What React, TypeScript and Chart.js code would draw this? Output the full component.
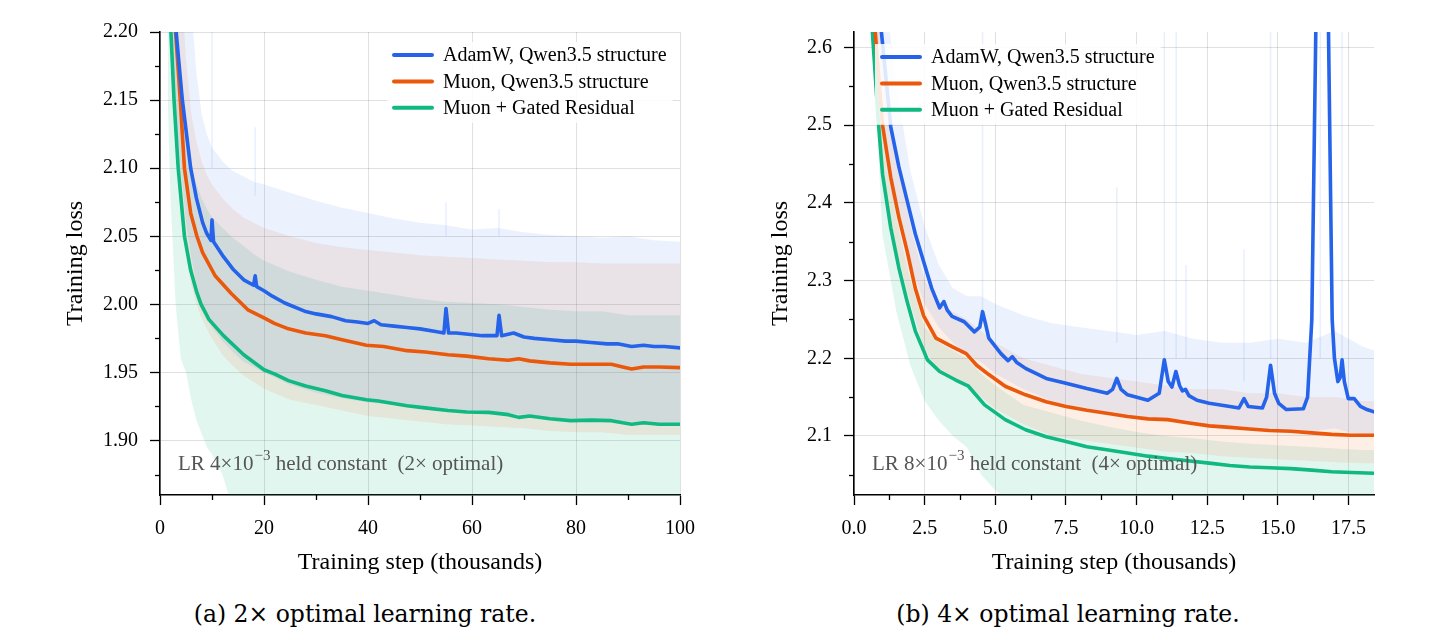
import React, { useEffect, useRef } from "react";
import { Chart, registerables } from "chart.js";

Chart.register(...registerables);

// ---------- shared ----------
const SERIES_LABELS = ["AdamW, Qwen3.5 structure", "Muon, Qwen3.5 structure", "Muon + Gated Residual"];
const SERIES_COLORS = ["#2563eb", "#ea580c", "#10b981"];
const BAND_COLORS = ["rgba(37,99,235,0.09)", "rgba(234,88,12,0.10)", "rgba(16,185,129,0.12)"];
const SPIKE_COLOR = "rgba(37,99,235,0.10)";
const X_TITLE = "Training step (thousands)";
const Y_TITLE = "Training loss";

// ---------- panel (a): 2x optimal LR ----------
const L_ADAMW_X = [2.5, 3.1, 4.3, 5.9, 7.0, 8.2, 9.0, 9.8, 10.0, 10.3, 11.0, 12.2, 14.0, 16.1, 18.0, 18.3, 18.6, 20.0, 21.6, 24.0, 27.8, 30.0, 33.0, 35.7, 38.0, 40.0, 41.2, 42.5, 45.0, 47.5, 50.0, 53.0, 54.6, 55.0, 55.5, 57.0, 59.3, 62.0, 64.8, 65.2, 65.7, 68.0, 70.0, 72.0, 75.0, 78.0, 80.0, 82.9, 86.0, 88.0, 90.7, 93.0, 95.0, 97.0, 100];
const L_ADAMW_Y = [2.24, 2.20, 2.15, 2.10, 2.078, 2.06, 2.052, 2.047, 2.062, 2.046, 2.042, 2.035, 2.026, 2.018, 2.014, 2.021, 2.013, 2.010, 2.006, 2.001, 1.995, 1.993, 1.991, 1.988, 1.987, 1.986, 1.988, 1.985, 1.984, 1.983, 1.982, 1.980, 1.979, 1.997, 1.979, 1.979, 1.978, 1.977, 1.977, 1.992, 1.977, 1.979, 1.976, 1.975, 1.974, 1.973, 1.973, 1.972, 1.971, 1.971, 1.969, 1.970, 1.969, 1.969, 1.968];
const L_MUON_X = [2.4, 3.0, 3.9, 4.7, 5.9, 7.1, 8.2, 10.6, 13.7, 16.9, 20, 22, 24.7, 28, 31.8, 35, 39.7, 43, 47.5, 51, 55.4, 59, 63.2, 67, 69, 71.1, 75, 79, 83, 86.8, 89, 90.7, 93, 96, 100];
const L_MUON_Y = [2.23, 2.20, 2.15, 2.10, 2.067, 2.05, 2.038, 2.021, 2.008, 1.996, 1.990, 1.986, 1.982, 1.979, 1.977, 1.974, 1.970, 1.969, 1.966, 1.965, 1.963, 1.962, 1.960, 1.959, 1.960, 1.9585, 1.957, 1.956, 1.956, 1.956, 1.954, 1.9525, 1.954, 1.954, 1.9535];
const L_GATED_X = [1.8, 2.1, 2.7, 3.5, 4.7, 5.9, 7.1, 7.9, 9.4, 12.2, 16.1, 20, 22, 24.7, 28, 31.8, 35, 39.7, 42, 47.5, 51, 55.4, 59, 63.2, 67, 69, 71.1, 75, 79, 83, 86.8, 89, 90.7, 93, 96, 100];
const L_GATED_Y = [2.23, 2.20, 2.15, 2.10, 2.05, 2.025, 2.0086, 2.0, 1.989, 1.977, 1.963, 1.952, 1.949, 1.944, 1.940, 1.9366, 1.933, 1.930, 1.929, 1.9256, 1.924, 1.922, 1.921, 1.9207, 1.919, 1.917, 1.918, 1.916, 1.9146, 1.915, 1.9146, 1.913, 1.912, 1.913, 1.912, 1.912];

const L_BAND_X = [1.5, 2, 3, 4, 5, 6, 7, 8, 9, 10, 12, 14, 16, 18, 20, 25, 30, 35, 40, 45, 50, 55, 60, 65, 70, 75, 80, 85, 90, 95, 100];
const L_ADAMW_HI = [2.5, 2.45, 2.4, 2.35, 2.28, 2.22, 2.17, 2.14, 2.125, 2.115, 2.105, 2.098, 2.094, 2.09, 2.088, 2.082, 2.076, 2.071, 2.067, 2.063, 2.06, 2.058, 2.055, 2.056, 2.053, 2.051, 2.05, 2.049, 2.05, 2.047, 2.046];
const L_ADAMW_LO = [2.25, 2.2, 2.14, 2.1, 2.06, 2.035, 2.015, 2.0, 1.99, 1.983, 1.973, 1.965, 1.958, 1.954, 1.95, 1.941, 1.935, 1.931, 1.928, 1.926, 1.924, 1.922, 1.921, 1.92, 1.919, 1.917, 1.916, 1.915, 1.914, 1.913, 1.913];
const L_MUON_HI = [2.45, 2.4, 2.32, 2.24, 2.18, 2.14, 2.12, 2.105, 2.095, 2.088, 2.078, 2.07, 2.064, 2.06, 2.056, 2.05, 2.045, 2.042, 2.04, 2.038, 2.036, 2.035, 2.034, 2.033, 2.032, 2.031, 2.031, 2.03, 2.03, 2.03, 2.03];
const L_MUON_LO = [2.25, 2.2, 2.14, 2.09, 2.04, 2.015, 2.0, 1.99, 1.982, 1.975, 1.963, 1.955, 1.948, 1.943, 1.938, 1.93, 1.926, 1.922, 1.918, 1.916, 1.914, 1.912, 1.911, 1.91, 1.909, 1.907, 1.906, 1.906, 1.904, 1.904, 1.904];
const L_GATED_HI = [2.4, 2.33, 2.24, 2.17, 2.13, 2.1, 2.088, 2.078, 2.07, 2.064, 2.056, 2.049, 2.043, 2.037, 2.032, 2.024, 2.018, 2.013, 2.01, 2.007, 2.004, 2.002, 2.001, 2.0, 1.998, 1.996, 1.995, 1.995, 1.992, 1.992, 1.992];
const L_GATED_LO = [2.15, 2.08, 2.0, 1.96, 1.95, 1.93, 1.915, 1.905, 1.895, 1.89, 1.875, 1.85, 1.85, 1.85, 1.85, 1.85, 1.85, 1.85, 1.85, 1.85, 1.85, 1.85, 1.85, 1.85, 1.85, 1.85, 1.85, 1.85, 1.85, 1.85, 1.85];

// faint raw-loss spikes of AdamW (step, base, top)
const L_SPIKE_X = [10.0, 18.3, 55.0, 65.2];
const L_SPIKE_BASE = [2.1, 2.08, 2.05, 2.05];
const L_SPIKE_TOP = [2.25, 2.13, 2.075, 2.07];

// ---------- panel (b): 4x optimal LR ----------
const R_ADAMW_X = [0.9, 0.97, 1.3, 1.59, 1.88, 2.17, 2.46, 2.75, 3.03, 3.18, 3.3, 3.47, 3.9, 4.26, 4.45, 4.55, 4.65, 4.77, 5.2, 5.45, 5.6, 5.75, 6.07, 6.8, 7.5, 8.24, 8.96, 9.15, 9.3, 9.45, 9.68, 10.4, 10.8, 10.98, 11.12, 11.25, 11.39, 11.52, 11.62, 11.73, 11.85, 12.14, 12.57, 13.3, 13.62, 13.8, 13.95, 14.45, 14.6, 14.74, 14.88, 15.03, 15.3, 15.9, 16.05, 16.2, 16.34, 16.56, 16.79, 16.92, 17.0, 17.12, 17.2, 17.27, 17.35, 17.49, 17.7, 17.92, 18.15, 18.4];
const R_ADAMW_Y = [2.66, 2.62, 2.498, 2.446, 2.403, 2.36, 2.325, 2.29, 2.265, 2.273, 2.262, 2.254, 2.247, 2.234, 2.24, 2.26, 2.245, 2.226, 2.206, 2.197, 2.202, 2.195, 2.187, 2.174, 2.168, 2.161, 2.155, 2.16, 2.174, 2.16, 2.153, 2.146, 2.155, 2.198, 2.17, 2.163, 2.183, 2.165, 2.158, 2.16, 2.152, 2.146, 2.142, 2.138, 2.136, 2.148, 2.138, 2.136, 2.15, 2.191, 2.155, 2.142, 2.134, 2.135, 2.15, 2.25, 2.62, 3.2, 2.62, 2.25, 2.2, 2.17, 2.175, 2.198, 2.17, 2.148, 2.148, 2.138, 2.134, 2.131];
const R_MUON_X = [0.7, 0.75, 1.01, 1.3, 1.59, 1.88, 2.17, 2.46, 2.9, 3.47, 3.97, 4.34, 4.77, 5.35, 6.07, 6.8, 7.5, 8.24, 9.0, 9.68, 10.4, 11.1, 11.8, 12.57, 13.3, 14.0, 14.7, 15.46, 16.2, 16.9, 17.6, 18.4];
const R_MUON_Y = [2.66, 2.62, 2.5, 2.433, 2.381, 2.338, 2.29, 2.255, 2.226, 2.215, 2.206, 2.191, 2.179, 2.164, 2.153, 2.144, 2.138, 2.133, 2.129, 2.125, 2.122, 2.121, 2.117, 2.113, 2.111, 2.109, 2.107, 2.106, 2.104, 2.102, 2.101, 2.101];
const R_GATED_X = [0.6, 0.65, 0.87, 1.01, 1.3, 1.59, 1.88, 2.17, 2.6, 3.03, 3.6, 4.05, 4.62, 5.35, 6.07, 6.8, 7.5, 8.24, 9.0, 9.68, 10.4, 11.1, 11.8, 12.57, 13.3, 14.0, 14.7, 15.46, 16.2, 16.9, 17.6, 18.4];
const R_GATED_Y = [2.66, 2.62, 2.5, 2.437, 2.368, 2.316, 2.273, 2.235, 2.198, 2.183, 2.172, 2.164, 2.14, 2.121, 2.108, 2.099, 2.093, 2.086, 2.082, 2.078, 2.074, 2.071, 2.068, 2.065, 2.062, 2.06, 2.059, 2.058, 2.056, 2.054, 2.053, 2.052];

const R_BAND_X = [0.5, 1.0, 1.5, 2.0, 2.5, 3.0, 3.5, 4.0, 4.5, 5.0, 6.0, 7.0, 8.0, 9.0, 10, 11, 12, 13, 14, 15, 16, 17, 18, 18.4];
const R_ADAMW_HI = [2.8, 2.7, 2.55, 2.44, 2.37, 2.32, 2.29, 2.28, 2.28, 2.27, 2.255, 2.245, 2.24, 2.235, 2.23, 2.235, 2.225, 2.22, 2.22, 2.225, 2.22, 2.235, 2.215, 2.21];
const R_ADAMW_LO = [2.7, 2.5, 2.4, 2.32, 2.27, 2.24, 2.22, 2.205, 2.195, 2.18, 2.16, 2.145, 2.135, 2.13, 2.125, 2.12, 2.115, 2.11, 2.11, 2.105, 2.105, 2.11, 2.1, 2.1];
const R_MUON_HI = [2.95, 2.6, 2.46, 2.37, 2.3, 2.27, 2.26, 2.25, 2.235, 2.22, 2.2, 2.19, 2.18, 2.175, 2.17, 2.165, 2.16, 2.16, 2.155, 2.155, 2.15, 2.15, 2.145, 2.145];
const R_MUON_LO = [2.8, 2.43, 2.34, 2.27, 2.21, 2.185, 2.175, 2.165, 2.15, 2.135, 2.115, 2.1, 2.095, 2.09, 2.085, 2.08, 2.078, 2.074, 2.072, 2.07, 2.068, 2.066, 2.065, 2.065];
const R_GATED_HI = [2.9, 2.5, 2.38, 2.3, 2.24, 2.22, 2.21, 2.2, 2.18, 2.165, 2.14, 2.13, 2.12, 2.112, 2.105, 2.1, 2.097, 2.093, 2.09, 2.088, 2.086, 2.084, 2.082, 2.082];
const R_GATED_LO = [2.75, 2.36, 2.26, 2.19, 2.145, 2.12, 2.1, 2.085, 2.05, 2.03, 2.0, 2.0, 2.0, 2.0, 2.0, 2.0, 2.0, 2.0, 2.0, 2.0, 2.0, 2.0, 2.0, 2.0];

const R_SPIKE_X = [4.55, 9.3, 10.98, 11.4, 11.75, 13.8, 14.74, 16.5, 17.27];
const R_SPIKE_BASE = [2.26, 2.22, 2.2, 2.2, 2.2, 2.17, 2.2, 2.2, 2.2];
const R_SPIKE_TOP = [2.7, 2.42, 2.7, 2.7, 2.32, 2.34, 2.7, 2.7, 2.7];

const CAPTION_A = "(a) 2× optimal learning rate.";
const CAPTION_B = "(b) 4× optimal learning rate.";

type Panel = {
  lines: { x: number[]; y: number[] }[];
  bandX: number[];
  bands: { hi: number[]; lo: number[] }[];
  spikes: { x: number[]; base: number[]; top: number[] };
  xMin: number; xMax: number; xStep: number;
  xMajor: (v: number) => boolean; xFmt: (v: number) => string;
  yMin: number; yMax: number; yStep: number;
  yMajor: (v: number) => boolean; yFmt: (v: number) => string;
  yAxisWidth: number; padRight: number; yTitleOffset: number;
  legendX: number; legendY: number;
  note: [string, string, string];
};

const LEFT: Panel = {
  lines: [{ x: L_ADAMW_X, y: L_ADAMW_Y }, { x: L_MUON_X, y: L_MUON_Y }, { x: L_GATED_X, y: L_GATED_Y }],
  bandX: L_BAND_X,
  bands: [{ hi: L_ADAMW_HI, lo: L_ADAMW_LO }, { hi: L_MUON_HI, lo: L_MUON_LO }, { hi: L_GATED_HI, lo: L_GATED_LO }],
  spikes: { x: L_SPIKE_X, base: L_SPIKE_BASE, top: L_SPIKE_TOP },
  xMin: 0, xMax: 100, xStep: 10,
  xMajor: (v) => Math.round(v) % 20 === 0, xFmt: (v) => String(Math.round(v)),
  yMin: 1.86, yMax: 2.2, yStep: 0.025,
  yMajor: (v) => Math.round(v * 1000) % 50 === 0, yFmt: (v) => v.toFixed(2),
  yAxisWidth: 160, padRight: 40, yTitleOffset: 61,
  legendX: 232, legendY: 23,
  note: ["LR 4×10", "−3", " held constant  (2× optimal)"],
};

const RIGHT: Panel = {
  lines: [{ x: R_ADAMW_X, y: R_ADAMW_Y }, { x: R_MUON_X, y: R_MUON_Y }, { x: R_GATED_X, y: R_GATED_Y }],
  bandX: R_BAND_X,
  bands: [{ hi: R_ADAMW_HI, lo: R_ADAMW_LO }, { hi: R_MUON_HI, lo: R_MUON_LO }, { hi: R_GATED_HI, lo: R_GATED_LO }],
  spikes: { x: R_SPIKE_X, base: R_SPIKE_BASE, top: R_SPIKE_TOP },
  xMin: 0, xMax: 18.4, xStep: 1.25,
  xMajor: (v) => Math.round(v * 100) % 250 === 0, xFmt: (v) => v.toFixed(1),
  yMin: 2.024, yMax: 2.62, yStep: 0.05,
  yMajor: (v) => Math.round(v * 100) % 10 === 0, yFmt: (v) => v.toFixed(1),
  yAxisWidth: 134, padRight: 60, yTitleOffset: 46,
  legendX: 26, legendY: 25,
  note: ["LR 8×10", "−3", " held constant  (4× optimal)"],
};

const SERIF = '"Liberation Serif", "Times New Roman", serif';
const GRID = "rgba(0,0,0,0.12)";
const CLEAR = "rgba(0,0,0,0)";

function decorPlugin(p: Panel) {
  return {
    id: "decor",
    afterDraw(chart: any) {
      const ctx: CanvasRenderingContext2D = chart.ctx;
      const ca = chart.chartArea;
      const xs = chart.scales.x;
      const ys = chart.scales.y;
      ctx.save();
      // minor ticks (shorter than the major ones drawn by the scale)
      ctx.strokeStyle = "#000";
      ctx.lineWidth = 1.3;
      xs.ticks.forEach((t: any) => {
        if (p.xMajor(t.value)) return;
        const px = Math.round(xs.getPixelForValue(t.value)) + 0.5;
        ctx.beginPath();
        ctx.moveTo(px, ca.bottom);
        ctx.lineTo(px, ca.bottom + 5);
        ctx.stroke();
      });
      ys.ticks.forEach((t: any) => {
        if (p.yMajor(t.value)) return;
        const py = Math.round(ys.getPixelForValue(t.value)) + 0.5;
        ctx.beginPath();
        ctx.moveTo(ca.left - 5, py);
        ctx.lineTo(ca.left, py);
        ctx.stroke();
      });

      // legend
      ctx.font = `20px ${SERIF}`;
      const widths = SERIES_LABELS.map((l) => ctx.measureText(l).width);
      const maxW = Math.max(...widths);
      const sx = ca.left + p.legendX;
      const tx = sx + 51;
      const y0 = ca.top + p.legendY;
      const rowH = 26.4;
      ctx.fillStyle = "rgba(255,255,255,0.85)";
      ctx.fillRect(sx - 5, y0 - 13, tx + maxW + 6 - (sx - 5), rowH * 2 + 28);
      SERIES_LABELS.forEach((label, i) => {
        const y = y0 + i * rowH;
        ctx.strokeStyle = SERIES_COLORS[i];
        ctx.lineWidth = 4;
        ctx.lineCap = "round";
        ctx.beginPath();
        ctx.moveTo(sx + 2, y);
        ctx.lineTo(sx + 40, y);
        ctx.stroke();
        ctx.fillStyle = "#000";
        ctx.textBaseline = "middle";
        ctx.textAlign = "left";
        ctx.fillText(label, tx, y + 1);
      });

      // annotation
      const ny = ca.bottom - 31;
      let nx = ca.left + 18;
      ctx.fillStyle = "#555";
      ctx.textBaseline = "middle";
      ctx.font = `21px ${SERIF}`;
      ctx.fillText(p.note[0], nx, ny);
      nx += ctx.measureText(p.note[0]).width + 1;
      ctx.font = `15px ${SERIF}`;
      ctx.fillText(p.note[1], nx, ny - 8);
      nx += ctx.measureText(p.note[1]).width;
      ctx.font = `21px ${SERIF}`;
      ctx.fillText(p.note[2], nx, ny);
      ctx.restore();
    },
  };
}

function buildChart(canvas: HTMLCanvasElement, p: Panel) {
  const mk = (xs: number[], ys: number[]) => xs.map((x, i) => ({ x, y: ys[i] }));
  const datasets: any[] = [];
  p.lines.forEach((l, i) => {
    datasets.push({
      label: SERIES_LABELS[i],
      data: mk(l.x, l.y),
      borderColor: SERIES_COLORS[i],
      borderWidth: 3.6,
      pointRadius: 0,
      fill: false,
      tension: 0,
      borderJoinStyle: "round",
      borderCapStyle: "round",
    });
  });
  // faint vertical raw spikes (segments separated by gaps)
  const spikeData: any[] = [];
  p.spikes.x.forEach((x, i) => {
    spikeData.push({ x, y: p.spikes.base[i] }, { x, y: p.spikes.top[i] }, { x, y: null });
  });
  datasets.push({ data: spikeData, borderColor: SPIKE_COLOR, borderWidth: 1.5, pointRadius: 0, fill: false, spanGaps: false });
  p.bands.forEach((b, i) => {
    datasets.push({ data: mk(p.bandX, b.hi), borderWidth: 0, pointRadius: 0, fill: "+1", backgroundColor: BAND_COLORS[i], tension: 0 });
    datasets.push({ data: mk(p.bandX, b.lo), borderWidth: 0, pointRadius: 0, fill: false, tension: 0 });
  });

  const tickFont = { family: SERIF, size: 20 };
  const titleFont = { family: SERIF, size: 24 };

  return new Chart(canvas, {
    type: "line",
    data: { datasets },
    plugins: [decorPlugin(p)],
    options: {
      animation: false,
      responsive: false,
      maintainAspectRatio: false,
      devicePixelRatio: 1,
      layout: { padding: { left: 0, top: 32, right: p.padRight, bottom: 0 } },
      plugins: { legend: { display: false }, tooltip: { enabled: false } },
      scales: {
        x: {
          type: "linear",
          min: p.xMin,
          max: p.xMax,
          ticks: {
            stepSize: p.xStep,
            autoSkip: false,
            maxRotation: 0,
            includeBounds: false,
            padding: 12,
            color: "#000",
            font: tickFont,
            callback: (v: any) => (p.xMajor(Number(v)) ? p.xFmt(Number(v)) : ""),
          },
          grid: {
            color: (c: any) => (c.tick && p.xMajor(c.tick.value) ? GRID : CLEAR),
            lineWidth: 1,
            tickLength: 10,
            tickWidth: 1.3,
            tickColor: (c: any) => (c.tick && p.xMajor(c.tick.value) ? "#000" : CLEAR),
          },
          border: { display: true, color: "#000", width: 1.6 },
          title: { display: true, text: X_TITLE, color: "#000", font: titleFont, padding: { top: 0, bottom: 13 } },
          afterFit: (s: any) => {
            s.height = 95;
          },
        },
        y: {
          type: "linear",
          min: p.yMin,
          max: p.yMax,
          ticks: {
            stepSize: p.yStep,
            autoSkip: false,
            includeBounds: false,
            padding: 12,
            color: "#000",
            font: tickFont,
            callback: (v: any) => (p.yMajor(Number(v)) ? p.yFmt(Number(v)) : ""),
          },
          grid: {
            color: (c: any) => (c.tick && p.yMajor(c.tick.value) ? GRID : CLEAR),
            lineWidth: 1,
            tickLength: 10,
            tickWidth: 1.3,
            tickColor: (c: any) => (c.tick && p.yMajor(c.tick.value) ? "#000" : CLEAR),
          },
          border: { display: true, color: "#000", width: 1.6 },
          title: { display: true, text: Y_TITLE, color: "#000", font: titleFont, padding: { top: p.yTitleOffset, bottom: 0 } },
          afterFit: (s: any) => {
            s.width = p.yAxisWidth;
          },
        },
      },
    } as any,
  });
}

const captionStyle = (cx: number): React.CSSProperties => ({
  position: "absolute",
  left: cx,
  top: 603,
  transform: "translateX(-50%)",
  fontFamily: '"DejaVu Serif", serif',
  fontSize: 23.5,
  lineHeight: 1,
  whiteSpace: "nowrap",
  color: "#000",
});

export default function App() {
  const leftRef = useRef<HTMLCanvasElement>(null);
  const rightRef = useRef<HTMLCanvasElement>(null);
  useEffect(() => {
    const c1 = buildChart(leftRef.current!, LEFT);
    const c2 = buildChart(rightRef.current!, RIGHT);
    return () => {
      c1.destroy();
      c2.destroy();
    };
  }, []);
  return (
    <div style={{ position: "fixed", left: 0, top: 0, width: 1434, height: 642, background: "#fff", overflow: "hidden" }}>
      <canvas ref={leftRef} width={720} height={590} style={{ position: "absolute", left: 0, top: 0, width: 720, height: 590 }} />
      <canvas ref={rightRef} width={714} height={590} style={{ position: "absolute", left: 720, top: 0, width: 714, height: 590 }} />
      <div style={captionStyle(365)}>{CAPTION_A}</div>
      <div style={captionStyle(1068)}>{CAPTION_B}</div>
    </div>
  );
}
